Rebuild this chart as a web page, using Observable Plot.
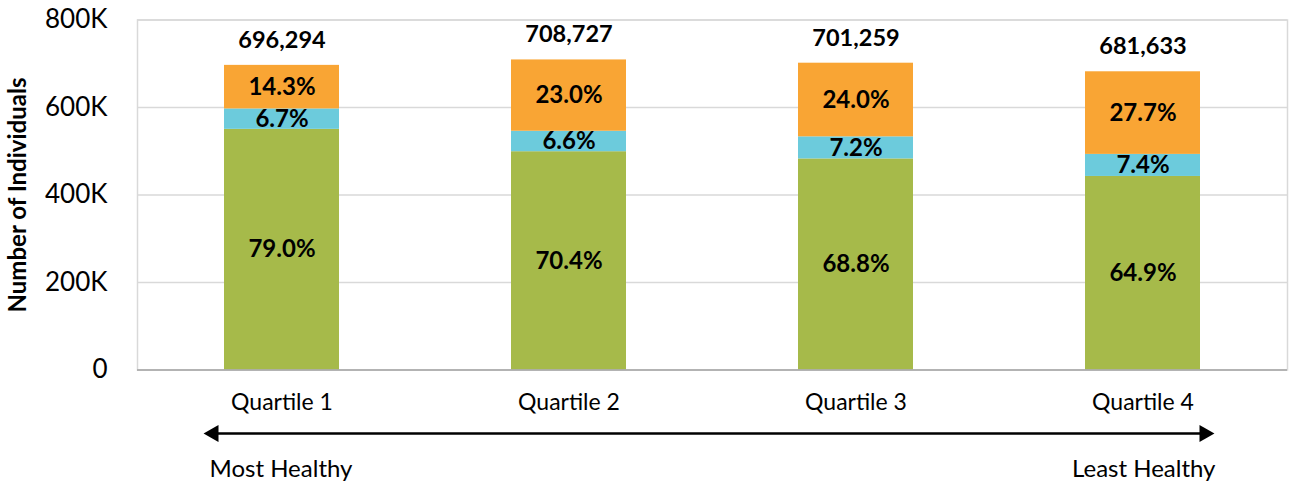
<!DOCTYPE html>
<html>
<head>
<meta charset="utf-8">
<script src="https://cdn.jsdelivr.net/npm/d3@7"></script>
<script src="https://cdn.jsdelivr.net/npm/@observablehq/plot@0.6"></script>
<style>
  html, body { margin: 0; padding: 0; background: #fff; }
  #chart svg { display: block; }
</style>
</head>
<body>
<div id="chart"></div>
<script>
// ---- data ----
const quartiles = ["Quartile 1", "Quartile 2", "Quartile 3", "Quartile 4"];
const totals = [696294, 708727, 701259, 681633];
const series = ["Segment 1", "Segment 2", "Segment 3"];
const seriesColors = ["#A6BA4A", "#6CCBDC", "#F9A534"];
const pctSegment1 = [79.0, 70.4, 68.8, 64.9];
const pctSegment2 = [6.7, 6.6, 7.2, 7.4];
const pctSegment3 = [14.3, 23.0, 24.0, 27.7];
const yTicks = [0, 200000, 400000, 600000, 800000];
const yLabel = "Number of Individuals";
const directionLabels = ["Most Healthy", "Least Healthy"];

// ---- table ----
const pcts = [pctSegment1, pctSegment2, pctSegment3];
const rows = [];
quartiles.forEach((q, i) => {
  series.forEach((s, j) => {
    rows.push({quartile: q, series: s, pct: pcts[j][i], value: pcts[j][i] / 100 * totals[i]});
  });
});
const totalRows = quartiles.map((q, i) => ({quartile: q, total: totals[i]}));

const font = "Lato, 'Open Sans', sans-serif";

const chart = Plot.plot({
  width: 1291,
  height: 483,
  marginLeft: 137,
  marginRight: 4,
  marginTop: 19.5,
  marginBottom: 113.5,
  style: {fontFamily: font, color: "#000", background: "#fff", overflow: "visible"},
  x: {domain: quartiles, paddingInner: 0.6, paddingOuter: 0.3, axis: null},
  y: {domain: [0, 800000], axis: null},
  color: {domain: series, range: seriesColors},
  marks: [
    Plot.gridY(yTicks, {stroke: "#d9d9d9", strokeOpacity: 1, strokeWidth: 1.5}),
    Plot.frame({stroke: "#d9d9d9", strokeWidth: 1.5}),
    Plot.axisY(yTicks, {
      tickSize: 0, tickPadding: 30, fontSize: 26, fill: "#000",
      tickFormat: d => d === 0 ? "0" : (d / 1000) + "K", label: null
    }),
    Plot.barY(rows, Plot.stackY({x: "quartile", y: "value", fill: "series", order: null})),
    Plot.ruleY([0], {stroke: "#a6a6a6", strokeWidth: 1.5}),
    Plot.text(rows, Plot.stackY({
      x: "quartile", y: "value", z: "series", order: null,
      text: d => d.pct.toFixed(1) + "%",
      fontSize: 24, fontWeight: "bold", fill: "#000"
    })),
    Plot.text(totalRows, {
      x: "quartile", y: "total", text: d => d3.format(",")(d.total),
      dy: -25, fontSize: 23.5, fontWeight: "bold", fill: "#000"
    }),
    Plot.axisX(quartiles, {tickSize: 0, tickPadding: 24, fontSize: 23, fill: "#000", label: null}),
    Plot.text([yLabel], {
      frameAnchor: "left", text: d => d, rotate: -90, dx: -119, textAnchor: "middle",
      lineAnchor: "middle", fontSize: 24, fontWeight: "bold", fill: "#000"
    }),
    // direction arrow
    Plot.arrow([0], {
      x1: () => quartiles[0], x2: () => quartiles[quartiles.length - 1],
      y1: () => 0, y2: () => 0, dy: 63.5,
      insetStart: -68.5, insetEnd: -61.5, headLength: 0,
      stroke: "#000", strokeWidth: 2.5
    }),
    Plot.dot([0], {
      x: () => quartiles[0], y: () => 0, dy: 63.5, dx: -68.5,
      symbol: "triangle", r: 6.4, rotate: -90, fill: "#000", stroke: null
    }),
    Plot.dot([0], {
      x: () => quartiles[quartiles.length - 1], y: () => 0, dy: 63.5, dx: 61.5,
      symbol: "triangle", r: 6.4, rotate: 90, fill: "#000", stroke: null
    }),
    Plot.text([directionLabels[0]], {
      x: () => quartiles[0], y: () => 0, text: d => d, dy: 99.5, dx: -72.5,
      textAnchor: "start", lineAnchor: "middle", fontSize: 24, fill: "#000"
    }),
    Plot.text([directionLabels[1]], {
      x: () => quartiles[quartiles.length - 1], y: () => 0, text: d => d, dy: 99.5, dx: 72.5,
      textAnchor: "end", lineAnchor: "middle", fontSize: 24, fill: "#000"
    })
  ]
});
document.getElementById("chart").appendChild(chart);
</script>
</body>
</html>
